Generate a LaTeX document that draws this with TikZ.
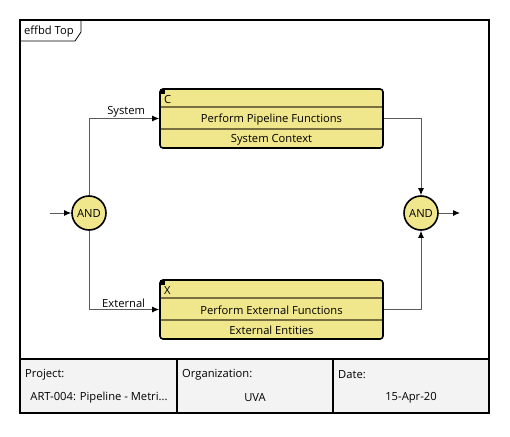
\documentclass[tikz,border=0pt]{standalone}
\usepackage{fontspec}
\setmainfont{Open Sans}
\usetikzlibrary{arrows.meta, calc}
\definecolor{fnFill}{RGB}{240, 230, 140}
\definecolor{fnRule}{RGB}{120, 112, 64}
\definecolor{linkGray}{RGB}{90, 90, 90}
\definecolor{footFill}{RGB}{243, 243, 243}

\begin{document}
\begin{tikzpicture}[
  x=1pt, y=-1pt,
  font=\fontsize{11.2}{13}\selectfont,
  frame/.style={draw=black, line width=2pt},
  fn/.style={
    rectangle,
    draw=black,
    fill=fnFill,
    line width=1.6pt,
    rounded corners=3pt,
    minimum width=223pt,
    minimum height=59pt,
    inner sep=0pt
  },
  rule/.style={draw=fnRule, line width=1.6pt},
  gate/.style={
    circle,
    draw=black,
    fill=fnFill,
    line width=1.6pt,
    minimum size=34pt,
    inner sep=0pt
  },
  link/.style={draw=linkGray, line width=1pt, -{Latex[length=7pt, width=6pt, color=black]}},
  lbl/.style={inner sep=1pt}
]
  \useasboundingbox (0,0) rectangle (510,436);

  % ── Cadre et cartouche ────────────────────────────────────────
  \fill[white] (20,20) rectangle (489,413);
  \fill[footFill] (20,359) rectangle (489,413);
  \draw[frame] (20,20) rectangle (489,413);
  \draw[frame] (20,359) -- (489,359);
  \draw[frame] (177,359) -- (177,413);
  \draw[frame] (333,359) -- (333,413);
  \draw[line width=0.8pt] (20,41) -- (75,41) -- (81,32) -- (81,20);
  \node[lbl, anchor=west] (title) at (23,32) {effbd Top};

  \node[lbl, anchor=west] (projK) at (24,375) {Project:};
  \node[lbl]              (projV) at (99,398) {ART-004: Pipeline - Metri...};
  \node[lbl, anchor=west] (orgK)  at (181,375) {Organization:};
  \node[lbl]              (orgV)  at (255,398) {UVA};
  \node[lbl, anchor=west] (dateK) at (337,375) {Date:};
  \node[lbl]              (dateV) at (411,398) {15-Apr-20};

  % ── Fonctions ─────────────────────────────────────────────────
  \node[fn] (fnC) at (271.5,118.5) {};
  \draw[rule] (160.8,107) -- (382.2,107);
  \draw[rule] (160.8,129) -- (382.2,129);
  \fill[black] (160,89) rectangle (165,94);
  \node[lbl, anchor=west] (fnCid)   at (163,99) {C};
  \node[lbl]              (fnCname) at (271.5,119.5) {Perform Pipeline Functions};
  \node[lbl]              (fnCres)  at (271.5,139.5) {System Context};

  \node[fn] (fnX) at (271.5,309.5) {};
  \draw[rule] (160.8,298) -- (382.2,298);
  \draw[rule] (160.8,320) -- (382.2,320);
  \fill[black] (160,280) rectangle (165,285);
  \node[lbl, anchor=west] (fnXid)   at (163,290) {X};
  \node[lbl]              (fnXname) at (271.5,310.5) {Perform External Functions};
  \node[lbl]              (fnXres)  at (271.5,330.5) {External Entities};

  % ── Portes AND ────────────────────────────────────────────────
  \node[gate] (andL) at (89,213) {AND};
  \node[gate] (andR) at (421,213) {AND};
  \coordinate (in)  at (50,213);
  \coordinate (out) at (460,213);

  % ── Flux ──────────────────────────────────────────────────────
  \draw[link] (in) -- (andL);
  \draw[link] (andL) |- (fnC.west)
    node[lbl, pos=0.91, anchor=south east] {System};
  \draw[link] (andL) |- (fnX.west)
    node[lbl, pos=0.91, anchor=south east] {External};
  \draw[link] (fnC.east) -| (andR);
  \draw[link] (fnX.east) -| (andR);
  \draw[link] (andR) -- (out);

\end{tikzpicture}
\end{document}
